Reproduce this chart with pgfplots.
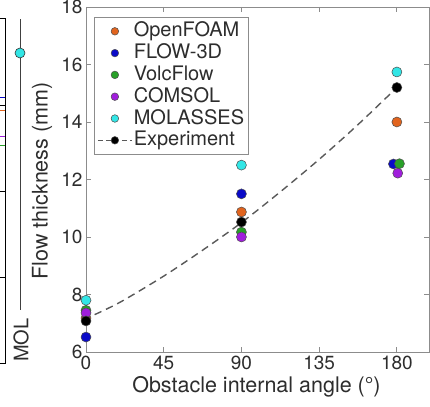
\documentclass[border=0pt]{standalone}
\usepackage{pgfplots}
\pgfplotsset{compat=1.18}
\usepackage{fontspec}
\setmainfont{TeX Gyre Heros}
\definecolor{cOF}{RGB}{225,100,30}
\definecolor{cFL}{RGB}{10,10,200}
\definecolor{cVF}{RGB}{40,160,40}
\definecolor{cCO}{RGB}{160,30,220}
\definecolor{cMO}{RGB}{50,230,230}
\definecolor{axgray}{RGB}{140,140,140}
\definecolor{txt}{RGB}{45,45,45}
\pgfplotsset{explegend/.style={legend image code/.code={\draw[black!65, line width=1.2pt, dash pattern=on 5pt off 3pt] (0pt,0pt)--(34pt,0pt);
    \draw[##1, mark size=3.8pt] plot coordinates {(17pt,0pt)};}}}
\begin{document}
\begin{tikzpicture}[x=1pt,y=1pt]
\path[use as bounding box] (0,0) rectangle (430,406);
% fragment of the neighbouring panel
\begin{axis}[at={(-100pt,43pt)}, anchor=south west, scale only axis,
  width=105pt, height=345pt, xmin=-100, xmax=5, ymin=43, ymax=388,
  xtick=\empty, ytick={129,215,301}, yticklabels={}, ytick pos=right,
  tick align=inside, major tick length=5pt, clip=false,
  axis line style={black, line width=0.7pt}, tick style={black, line width=0.7pt}]
\addplot[cFL, line width=0.9pt] coordinates {(-100,309)(5,309)};
\addplot[cOF, line width=0.9pt] coordinates {(-100,296)(5,296)};
\addplot[cCO, line width=0.9pt] coordinates {(-100,270)(5,270)};
\addplot[cVF, line width=0.9pt] coordinates {(-100,261)(5,261)};
\addplot[black!75, line width=0.8pt] coordinates {(20,96)(20,387)};
\addplot[only marks, mark=*, mark size=5pt, mark options={fill=cMO, draw=black!80, line width=0.6pt}] coordinates {(20,353)};
\node[rotate=90, font=\fontsize{20}{24}\selectfont, text=txt, anchor=center] at (axis cs:21,66) {MOL};
\end{axis}
% main panel
\begin{axis}[at={(86pt,54pt)}, anchor=south west, scale only axis,
  width=343pt, height=345pt,
  xmin=0, xmax=198.6, ymin=6, ymax=18,
  xtick={0,45,90,135,180}, ytick={6,8,10,12,14,16,18},
  tick align=inside, major tick length=5pt, clip=false,
  axis line style={axgray, line width=0.8pt}, tick style={axgray, line width=0.8pt},
  tick label style={font=\fontsize{19}{22}\selectfont, text=txt},
  /pgf/number format/assume math mode=true,
  label style={font=\fontsize{21.5}{24}\selectfont, text=txt},
  xlabel={Obstacle internal angle (°)},
  ylabel={Flow thickness (mm)},
  xlabel style={at={(axis description cs:0.497,-0.101)}, anchor=center},
  ylabel style={at={(axis description cs:-0.128,0.496)}, anchor=center},
  legend cell align=left,
  legend style={at={(0.023,0.971)}, anchor=north west, draw=axgray, line width=0.8pt,
    font=\fontsize{20}{22}\selectfont, text=txt,
    nodes={text height=15.2pt, text depth=4pt, inner sep=1.3pt},
    inner xsep=3pt, inner ysep=3pt},
  legend image code/.code={\draw[mark repeat=2,mark phase=2,#1, mark size=3.8pt] plot coordinates {(0pt,0pt)(17pt,0pt)(34pt,0pt)};},
  every axis plot/.append style={only marks, mark=*, mark size=5pt}
]
\addplot[mark options={fill=cOF, draw=black!70, line width=0.5pt}] coordinates {(0,7.18)(90,10.87)(180,14.0)};
\addlegendentry{OpenFOAM}
\addplot[mark options={fill=cFL, draw=black!70, line width=0.5pt}] coordinates {(0,6.52)(90,11.5)(178,12.54)};
\addlegendentry{FLOW-3D}
\addplot[mark options={fill=cVF, draw=black!70, line width=0.5pt}] coordinates {(0,7.45)(90,10.17)(181.5,12.55)};
\addlegendentry{VolcFlow}
\addplot[mark options={fill=cCO, draw=black!70, line width=0.5pt}] coordinates {(0,7.36)(90,10.0)(180.5,12.22)};
\addlegendentry{COMSOL}
\addplot[mark options={fill=cMO, draw=black!70, line width=0.5pt}] coordinates {(0,7.8)(90,12.5)(180,15.74)};
\addlegendentry{MOLASSES}
\addplot[forget plot, sharp plot, mark=none, black!65, line width=1.4pt, dash pattern=on 7.5pt off 5pt, smooth]
  coordinates {(5,7.3)(20,7.74)(45,8.64)(67.5,9.54)(90,10.5)(112.5,11.57)(135,12.7)(157.5,13.91)(180,15.2)};
\addplot[mark options={fill=black, draw=black!70, line width=0.5pt}, explegend]
  coordinates {(0,7.08)(90,10.52)(180,15.2)};
\addlegendentry{Experiment}
\end{axis}
\end{tikzpicture}
\end{document}
